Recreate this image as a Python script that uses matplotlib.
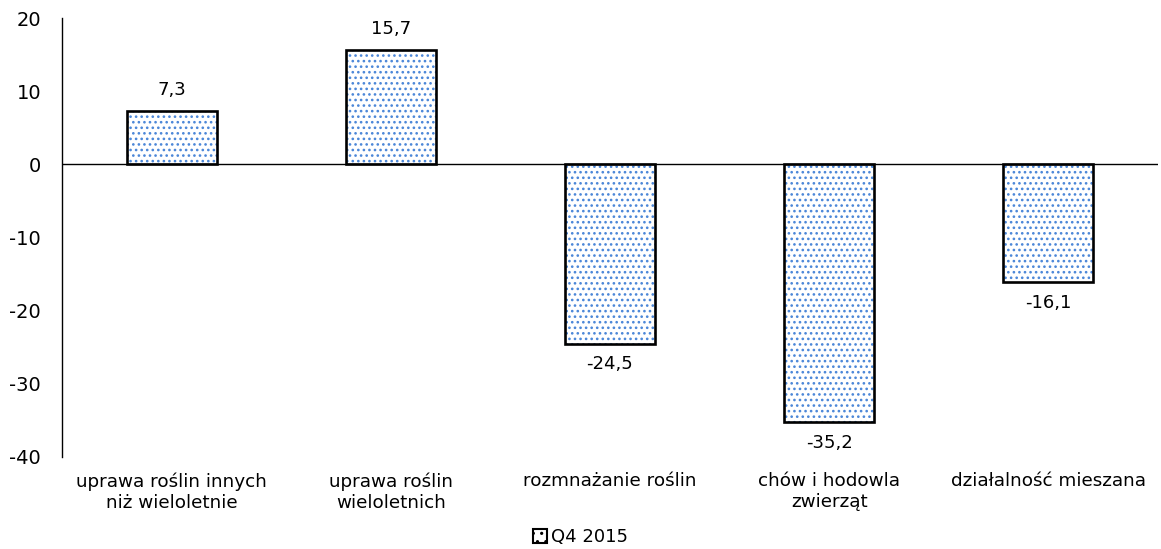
import numpy as np
import matplotlib.pyplot as plt
from matplotlib.patches import Patch

categories = ["uprawa roślin innych\nniż wieloletnie", "uprawa roślin\nwieloletnich",
              "rozmnażanie roślin", "chów i hodowla\nzwierząt", "działalność mieszana"]
values = [7.3, 15.7, -24.5, -35.2, -16.1]
value_labels = ["7,3", "15,7", "-24,5", "-35,2", "-16,1"]
series_name = "Q4 2015"
yticks = [20, 10, 0, -10, -20, -30, -40]

plt.rcParams['font.family'] = 'DejaVu Sans'
plt.rcParams['hatch.linewidth'] = 1.1

fig = plt.figure(figsize=(11.61, 5.49), dpi=100)
ax = fig.add_axes([0.0534, 0.1676, 0.944, 0.7994])

x = np.arange(len(categories))
dot_col = '#4a86d8'
# dotted fill, then black outline on top
ax.bar(x, values, width=0.41, color='white', edgecolor=dot_col, hatch='...', linewidth=0)
ax.bar(x, values, width=0.41, fill=False, edgecolor='black', linewidth=1.9)

for xi, v, lab in zip(x, values, value_labels):
    if v >= 0:
        ax.text(xi, v + 1.6, lab, ha='center', va='bottom', fontsize=13)
    else:
        ax.text(xi, v - 1.6, lab, ha='center', va='top', fontsize=13)

ax.axhline(0, color='black', linewidth=1)
ax.set_xlim(-0.5, len(categories) - 0.5)
ax.set_ylim(-40, 20)
ax.set_yticks(yticks)
ax.set_yticklabels([str(t) for t in yticks], fontsize=14)
ax.set_xticks(x)
ax.set_xticklabels(categories, fontsize=13.2)
ax.tick_params(axis='y', length=0, pad=15)
ax.tick_params(axis='x', length=0, pad=11)
for s in ['top', 'right', 'bottom']:
    ax.spines[s].set_visible(False)
ax.spines['left'].set_linewidth(1)

handle = Patch(facecolor='white', edgecolor='black', hatch='..', linewidth=1.5)
fig.legend([handle], [series_name], loc='lower center', bbox_to_anchor=(0.5, -0.025),
           frameon=False, fontsize=13, handlelength=0.8, handleheight=0.8, handletextpad=0.2)

fig.savefig('out.png', dpi=100)
